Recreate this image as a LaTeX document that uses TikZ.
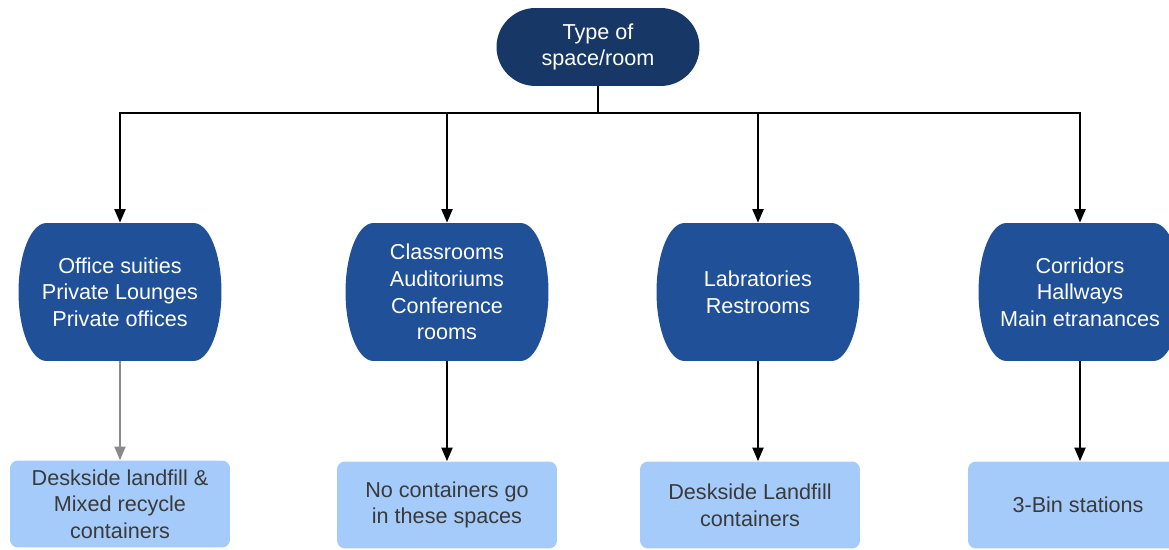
\documentclass[tikz,border=0pt]{standalone}
\usepackage{fontspec}
\setmainfont{Liberation Sans}
\usetikzlibrary{arrows.meta}
\definecolor{navy}{HTML}{173766}
\definecolor{midblue}{HTML}{1F5098}
\definecolor{lightblue}{HTML}{A5CBFB}
\definecolor{boxtext}{HTML}{3A3A3A}
\definecolor{grayline}{HTML}{8A8A8A}
\tikzset{
  every node/.style={font=\fontsize{12.3}{15.2}\selectfont, align=center, inner sep=0pt},
  topnode/.style={fill=navy, text=white, rounded corners=0.78cm, minimum width=4.06cm, minimum height=1.56cm},
  midnode/.style={text=white, minimum width=4.06cm, minimum height=2.76cm,
    path picture={
      \fill[midblue] ([xshift=0.56cm]path picture bounding box.north west)
        -- ([xshift=-0.56cm]path picture bounding box.north east)
        arc[start angle=90, end angle=-90, x radius=0.56cm, y radius=1.38cm]
        -- ([xshift=0.56cm]path picture bounding box.south west)
        arc[start angle=270, end angle=90, x radius=0.56cm, y radius=1.38cm]
        -- cycle;
    }},
  leafbox/.style={fill=lightblue, text=boxtext, rounded corners=0.16cm, minimum width=4.4cm, minimum height=1.74cm},
  conn/.style={line width=1.1pt, -{Triangle[length=0.27cm, width=0.22cm]}},
  plain/.style={line width=1.1pt},
  grayconn/.style={line width=0.9pt, draw=grayline, -{Triangle[length=0.27cm, width=0.22cm, fill=grayline]}}
}
\begin{document}
\begin{tikzpicture}[x=0.02cm, y=-0.02cm]
\useasboundingbox (0,0) rectangle (1169,550);
\node[topnode] (top) at (598,47) {Type of\\space/room};
\node[midnode] (n1) at (120,292) {Office suities\\Private Lounges\\Private offices};
\node[midnode] (n2) at (447,292) {Classrooms\\Auditoriums\\Conference\\rooms};
\node[midnode] (n3) at (758,292) {Labratories\\Restrooms};
\node[midnode] (n4) at (1080,292) {Corridors\\Hallways\\Main etranances};
\node[leafbox] (b1) at (120,504) {Deskside landfill \&\\Mixed recycle\\containers};
\node[leafbox] (b2) at (447,505) {No containers go\\in these spaces};
\node[leafbox] (b3) at (750,505) {Deskside Landfill\\containers};
\node[leafbox] (b4) at (1078,505) {3-Bin stations};
\coordinate (bus) at (598,113);
\draw[plain] (top.south) -- (bus);
\draw[conn] (bus) -| (n1.north);
\draw[conn] (bus) -| (n2.north);
\draw[conn] (bus) -| (n3.north);
\draw[conn] (bus) -| (n4.north);
\draw[grayconn] (n1.south) -- (b1.north);
\draw[conn] (n2.south) -- (b2.north);
\draw[conn] (n3.south) -- (n3.south |- b3.north);
\draw[conn] (n4.south) -- (n4.south |- b4.north);
\end{tikzpicture}
\end{document}
